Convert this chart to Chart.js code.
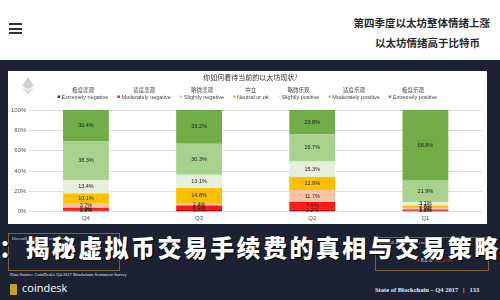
<!DOCTYPE html>
<html>
<head>
<meta charset="utf-8">
<script src="https://cdn.jsdelivr.net/npm/chart.js@4"></script>
<style>
  body { margin: 0; width: 500px; height: 300px; overflow: hidden; background: #fff; position: relative; font-family: "Noto Sans CJK SC", "Noto Sans", sans-serif; }
  .abs { position: absolute; }
  .burger div { width: 13px; height: 2px; background: #333; margin-bottom: 2.5px; }
  .head { right: 10px; font-weight: bold; color: #2a2a2a; font-size: 10.5px; text-align: right; white-space: nowrap; }
  .navy { left: 0; top: 60px; width: 500px; height: 240px; background: #1c2134; }
  .panel { left: 8px; top: 71px; width: 479px; height: 153px; background: #fff; }
  .box { border: 1px solid #7a6334; color: #ddd; font-family: "Liberation Serif", serif; font-size: 5px; }
  .big { left: -1px; top: 229px; color: #fff; font-size: 24px; font-weight: 900; letter-spacing: 2.4px; white-space: nowrap;
         text-shadow: 1px 1px 0 #000, -1px 0 0 #222; }
  .foot { color: #e8e8e8; font-family: "Liberation Serif", serif; font-size: 6.5px; font-weight: bold; white-space: nowrap; }
</style>
</head>
<body>
<div class="abs burger" style="left:9px;top:23px"><div></div><div></div><div></div></div>
<div class="abs head" style="top:15px">第四季度以太坊整体情绪上涨</div>
<div class="abs head" style="top:35px;right:20px">以太坊情绪高于比特币</div>

<div class="abs navy"></div>
<div class="abs panel"></div>
<canvas id="myChart" class="abs" style="left:8px;top:71px" width="479" height="153"></canvas>
<svg class="abs" style="left:22px;top:77px" width="12" height="18" viewBox="0 0 12 18">
  <polygon points="6,0 12,9 6,12 0,9" fill="#cfcfd4"/>
  <polygon points="6,13 12,10 6,18 0,10" fill="#dcdce0"/>
</svg>

<div class="abs box" style="left:8px;top:233px;width:110px;height:36px;">
  <div style="padding:2px 3px">Overall Bitcoin Sentiment</div>
</div>
<div class="abs box" style="left:375px;top:237px;width:112px;height:32px;">
  <div style="padding:2px 3px">Overall Ethereum Sentiment</div>
  <div style="padding:10px 0 0 40px;font-size:5.5px"><span style="color:#d33">&#9829;</span> 8.6% <span style="color:#c22">negative</span></div>
</div>
<div class="abs big">：揭秘虚拟币交易手续费的真相与交易策略</div>

<div class="abs foot" style="left:10px;top:272px;font-size:4.5px;font-weight:normal">Data Source: CoinDesk's Q4 2017 Blockchain Sentiment Survey</div>
<div class="abs" style="left:10px;top:284px;width:7px;height:11px;background:#c9a227;border-radius:1px"></div>
<div class="abs" style="left:22px;top:280px;color:#fff;font-family:'Open Sans',sans-serif;font-size:11px">coindesk</div>
<div class="abs foot" style="left:375px;top:286px">State of Blockchain – Q4 2017 &nbsp; | &nbsp; 133</div>

<script>
const quarters = ["Q4", "Q3", "Q2", "Q1"];
const seriesCn = ["极度悲观", "适度悲观", "略微悲观", "中立", "略微乐观", "适度乐观", "极度乐观"];
const seriesEn = ["Extremely negative", "Moderately negative", "Slightly negative", "Neutral or ok", "Slightly positive", "Moderately positive", "Extremely positive"];
const colors = ["#c00000", "#ff1a1a", "#f8c4a8", "#ffc000", "#e4efdc", "#a9d18e", "#70ad47"];

const extremelyNegative = [1.2, 1.7, 2.2, 1.2];
const moderatelyNegative = [2.9, 4.5, 7.4, 1.0];
const slightlyNegative = [3.7, 2.4, 11.7, 1.2];
const neutral = [10.1, 14.8, 12.9, 2.8];
const slightlyPositive = [13.4, 13.1, 15.3, 3.1];
const moderatelyPositive = [38.3, 30.3, 26.7, 21.9];
const extremelyPositive = [30.4, 33.2, 23.8, 68.8];
const yTicks = [0, 20, 40, 60, 80, 100];
const questionTitle = "你如何看待当前的以太坊现状?";

const seriesValues = [extremelyNegative, moderatelyNegative, slightlyNegative, neutral,
  slightlyPositive, moderatelyPositive, extremelyPositive];

// values written in the middle of each segment
const segmentLabels = {
  id: "segmentLabels",
  afterDatasetsDraw(chart) {
    const c = chart.ctx;
    c.save();
    c.font = "5.5px Arial";
    c.fillStyle = "#222";
    c.textAlign = "center";
    c.textBaseline = "middle";
    chart.data.datasets.forEach((ds, i) => {
      chart.getDatasetMeta(i).data.forEach((bar, j) => {
        c.fillText(ds.data[j].toFixed(1) + "%", bar.x, (bar.y + bar.base) / 2);
      });
    });
    c.restore();
  }
};

// title and two-line legend (Chinese above English)
const topLegend = {
  id: "topLegend",
  afterDraw(chart) {
    const c = chart.ctx;
    c.save();
    c.textBaseline = "middle";
    c.textAlign = "center";
    c.fillStyle = "#333";
    c.font = "7px 'Noto Sans CJK SC'";
    c.fillText(questionTitle, chart.width / 2 + 3, 6);

    c.font = "5.5px Arial";
    const gap = 9, mark = 4;
    const widths = seriesEn.map(t => c.measureText(t).width + mark);
    const total = widths.reduce((a, b) => a + b, 0) + gap * (widths.length - 1);
    let x = chart.width / 2 - total / 2;
    seriesEn.forEach((t, i) => {
      const w = widths[i];
      c.fillStyle = colors[i];
      c.fillRect(x, 24.5, 2.5, 2.5);
      c.fillStyle = "#444";
      c.textAlign = "left";
      c.font = "5.5px Arial";
      c.fillText(t, x + mark, 26);
      c.textAlign = "center";
      c.font = "5.5px 'Noto Sans CJK SC'";
      c.fillText(seriesCn[i], x + w / 2, 19);
      x += w + gap;
    });
    c.restore();
  }
};

const ctx = document.getElementById("myChart").getContext("2d");
const myChart = new Chart(ctx, {
  type: "bar",
  data: {
    labels: quarters,
    datasets: seriesValues.map((vals, i) => ({
      label: seriesEn[i],
      data: vals,
      backgroundColor: colors[i],
      borderWidth: 0,
      categoryPercentage: 1,
      barPercentage: 0.405
    }))
  },
  options: {
    responsive: false,
    animation: false,
    layout: { padding: { top: 39, right: 5, bottom: -1, left: 0 } },
    plugins: {
      legend: { display: false },
      tooltip: { enabled: false }
    },
    scales: {
      x: {
        stacked: true,
        grid: { display: false, drawTicks: false },
        border: { display: false },
        ticks: { color: "#555", font: { size: 6 }, padding: 3 }
      },
      y: {
        stacked: true,
        min: 0,
        max: 100,
        afterBuildTicks: axis => { axis.ticks = yTicks.map(v => ({ value: v })); },
        grid: { color: "#dedede", lineWidth: 1, drawTicks: false },
        border: { display: false },
        ticks: { color: "#555", font: { size: 6 }, padding: 3, callback: v => v + "%" }
      }
    }
  },
  plugins: [segmentLabels, topLegend]
});
</script>
</body>
</html>
